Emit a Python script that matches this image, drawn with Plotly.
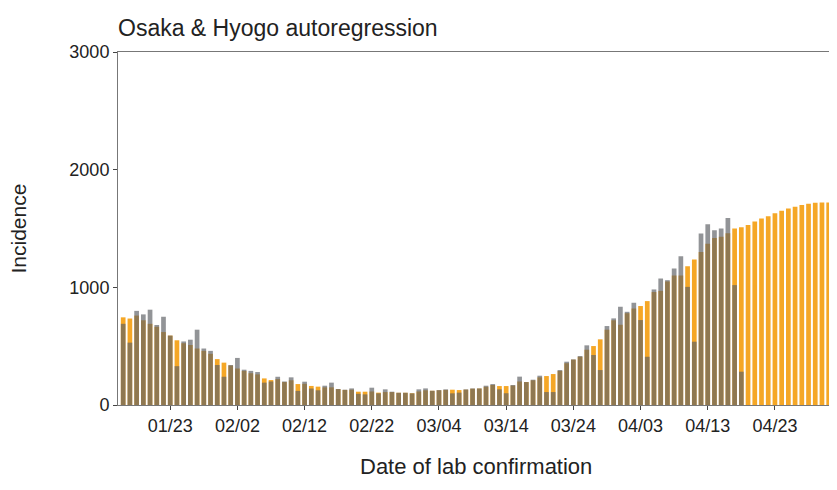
import plotly.graph_objects as go
import pandas as pd

start_date = "2021-01-16"

observed = [690, 530, 800, 770, 810, 680, 750, 590, 330, 540,
            555, 640, 480, 460, 340, 240, 340, 400, 300, 290,
            280, 190, 200, 240, 200, 235, 120, 198, 140, 125,
            164, 190, 136, 130, 141, 95, 90, 147, 99, 133,
            113, 104, 104, 99, 133, 141, 121, 127, 133, 99,
            105, 133, 141, 141, 164, 178, 133, 100, 170, 241,
            195, 215, 249, 110, 110, 297, 368, 388, 416, 507,
            425, 297, 671, 736, 835, 792, 869, 722, 410, 982,
            1075, 1061, 1160, 1265, 1004, 538, 1457, 1537, 1486, 1500,
            1590, 1019, 283]

fitted = [745, 735, 760, 720, 690, 665, 620, 590, 550, 525,
          510, 480, 460, 435, 390, 360, 335, 310, 290, 270,
          260, 226, 212, 220, 195, 210, 178, 180, 162, 156,
          150, 150, 135, 128, 130, 113, 113, 115, 105, 110,
          110, 104, 104, 100, 115, 125, 121, 125, 128, 130,
          127, 130, 138, 140, 155, 170, 161, 161, 165, 200,
          195, 210, 235, 246, 263, 290, 355, 385, 410, 470,
          501, 558, 640, 720, 682, 780, 820, 841, 883, 960,
          970, 1050, 1100, 1100, 1180, 1237, 1300, 1370, 1420, 1430,
          1460, 1500, 1510, 1530, 1560, 1585, 1605, 1630, 1650, 1670,
          1685, 1700, 1710, 1718, 1720, 1720]

tick_dates = ["2021-01-23", "2021-02-02", "2021-02-12", "2021-02-22", "2021-03-04",
              "2021-03-14", "2021-03-24", "2021-04-03", "2021-04-13", "2021-04-23"]
tick_labels = ["01/23", "02/02", "02/12", "02/22", "03/04",
               "03/14", "03/24", "04/03", "04/13", "04/23"]
y_ticks = [0, 1000, 2000, 3000]

dates_fit = pd.date_range(start_date, periods=len(fitted), freq="D")
dates_obs = pd.date_range(start_date, periods=len(observed), freq="D")
bar_w = 0.7 * 86400000

fig = go.Figure()
fig.add_trace(go.Bar(x=dates_fit, y=fitted, width=bar_w,
                     marker=dict(color="rgb(245,167,38)", line=dict(width=0)),
                     name="fitted", showlegend=False))
fig.add_trace(go.Bar(x=dates_obs, y=observed, width=bar_w,
                     marker=dict(color="rgba(95,97,102,0.68)", line=dict(width=0)),
                     name="observed", showlegend=False))

fnt = "Liberation Sans, Arial, sans-serif"
W, H = 829, 482
fig.update_layout(
    barmode="overlay",
    width=W, height=H,
    margin=dict(l=110, r=3, t=43.5, b=85),
    paper_bgcolor="white", plot_bgcolor="white",
    font=dict(family=fnt, color="#222"),
    title=dict(text="Osaka & Hyogo autoregression", x=110/W, xanchor="left",
               y=1-20/H, yanchor="middle", yref="container",
               font=dict(size=23, color="#222", family=fnt)),
    xaxis=dict(range=["2021-01-15 05:30", "2021-05-01 19:00"],
               tickvals=tick_dates, ticktext=tick_labels,
               ticks="outside", ticklen=4, tickcolor="#444",
               showline=True, linecolor="#777", linewidth=1, mirror=True,
               showgrid=False, zeroline=False,
               tickfont=dict(size=18, color="#222")),
    yaxis=dict(range=[0, 3000], tickvals=y_ticks,
               ticks="outside", ticklen=4, tickcolor="#444",
               showline=True, linecolor="#777", linewidth=1, mirror=True,
               showgrid=False, zeroline=False,
               tickfont=dict(size=18, color="#222")),
    annotations=[
        dict(text="Date of lab confirmation", xref="paper", yref="paper",
             x=0.5, y=-62/353.5, xanchor="center", yanchor="middle",
             showarrow=False, font=dict(size=22, color="#222")),
        dict(text="Incidence", xref="paper", yref="paper",
             x=-100/716, y=0.5, xanchor="center", yanchor="middle",
             textangle=-90, showarrow=False, font=dict(size=21, color="#222")),
    ],
)

fig.write_html("out.html")
